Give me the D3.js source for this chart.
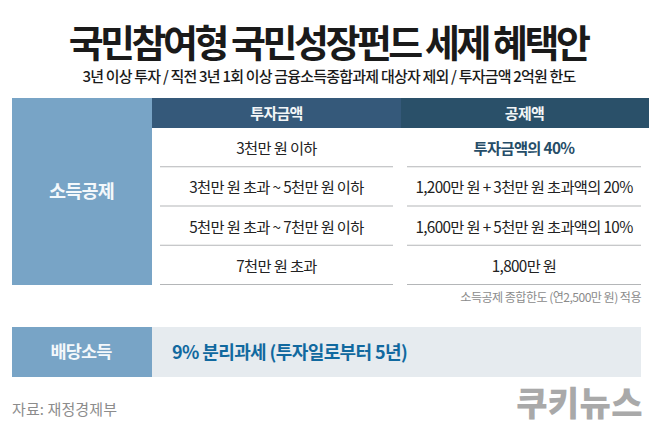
<!DOCTYPE html>
<html><head><meta charset="utf-8">
<script src="https://cdn.jsdelivr.net/npm/d3@7"></script>
<style>html,body{margin:0;padding:0;background:#fff}svg{display:block}text{font-family:"Noto Sans CJK KR","Noto Sans",sans-serif}</style>
</head><body><svg id="c" width="658" height="427"></svg>
<script>
const title = "국민참여형 국민성장펀드 세제 혜택안";
const subtitle = "3년 이상 투자 / 직전 3년 1회 이상 금융소득종합과제 대상자 제외 / 투자금액 2억원 한도";
const columns = ["투자금액","공제액"];
const amountRows = ["3천만 원 이하","3천만 원 초과 ~ 5천만 원 이하","5천만 원 초과 ~ 7천만 원 이하","7천만 원 초과"];
const deductionRows = ["투자금액의 40%","1,200만 원 + 3천만 원 초과액의 20%","1,600만 원 + 5천만 원 초과액의 10%","1,800만 원"];
const sideLabel = "소득공제";
const note = "소득공제 종합한도 (연2,500만 원) 적용";
const dividendLabel = "배당소득";
const dividendText = "9% 분리과세 (투자일로부터 5년)";
const source = "자료: 재정경제부";
const brand = "쿠키뉴스";

const svg = d3.select("#c");
const rowIdx = d3.range(amountRows.length);
const y = d3.scaleBand().domain(rowIdx).range([128,285]);
const put = (s,xx,yy,size,weight,fill,ls,anchor="middle") => svg.append("text").attr("x",xx).attr("y",yy)
  .attr("font-size",size).attr("font-weight",weight).attr("fill",fill).attr("letter-spacing",ls)
  .attr("text-anchor",anchor).attr("dominant-baseline","central").text(s);

put(title,328,40,38,700,"#1a1a1a",-3.5);
put(subtitle,329,75.5,15,500,"#1a1a1a",-0.8);

svg.append("rect").attr("x",12).attr("y",98).attr("width",140).attr("height",187).attr("fill","#78a4c6");
put(sideLabel,81.5,190,18.5,700,"#f4f8fb",-0.8);

svg.selectAll("rect.h").data(columns).join("rect").attr("class","h")
  .attr("x",(d,i)=>i?401:152).attr("y",98).attr("width",(d,i)=>i?248:249).attr("height",30)
  .attr("fill",(d,i)=>i?"#2a5069":"#35597a");
svg.selectAll("text.h").data(columns).join("text").attr("class","h")
  .attr("x",(d,i)=>i?524.5:276.5).attr("y",112.5).attr("text-anchor","middle").attr("dominant-baseline","central")
  .attr("font-size",15).attr("font-weight",700).attr("fill","#f2f5f7").attr("letter-spacing",-0.7).text(d=>d);

[[amountRows,276.5,160,393],[deductionRows,524,407,641]].forEach(([rows,cx,x0,x1],c)=>{
  const g = svg.append("g");
  g.selectAll("line").data(rows).join("line")
    .attr("x1",x0).attr("x2",x1)
    .attr("y1",(d,i)=>y(i)+y.bandwidth()-0.5).attr("y2",(d,i)=>y(i)+y.bandwidth()-0.5)
    .attr("stroke","#b4b6b8").attr("stroke-width",1.2);
  g.selectAll("text").data(rows).join("text")
    .attr("x",cx).attr("y",(d,i)=>y(i)+y.bandwidth()/2-0.5).attr("text-anchor","middle").attr("dominant-baseline","central")
    .attr("font-size",15.3).attr("letter-spacing",-0.65)
    .attr("font-weight",(d,i)=>c===1&&i===0?700:400)
    .attr("fill",(d,i)=>c===1&&i===0?"#264d68":"#222").text(d=>d);
});

put(note,641,296.5,12.1,400,"#8b8b8b",-0.55,"end");

svg.append("rect").attr("x",152).attr("y",327).attr("width",489).attr("height",50).attr("fill","#e6ebef");
svg.append("rect").attr("x",12).attr("y",327).attr("width",140).attr("height",50).attr("fill","#78a4c6");
put(dividendLabel,81,350.5,17.5,700,"#f4f8fb",-0.8);
put(dividendText,172,350.5,18,700,"#11699f",-0.6,"start");
put(source,12,408.5,15,400,"#8c8c8c",0.1,"start");
put(brand,579.5,401,34,900,"#a9a9a9",0.4);
</script></body></html>
